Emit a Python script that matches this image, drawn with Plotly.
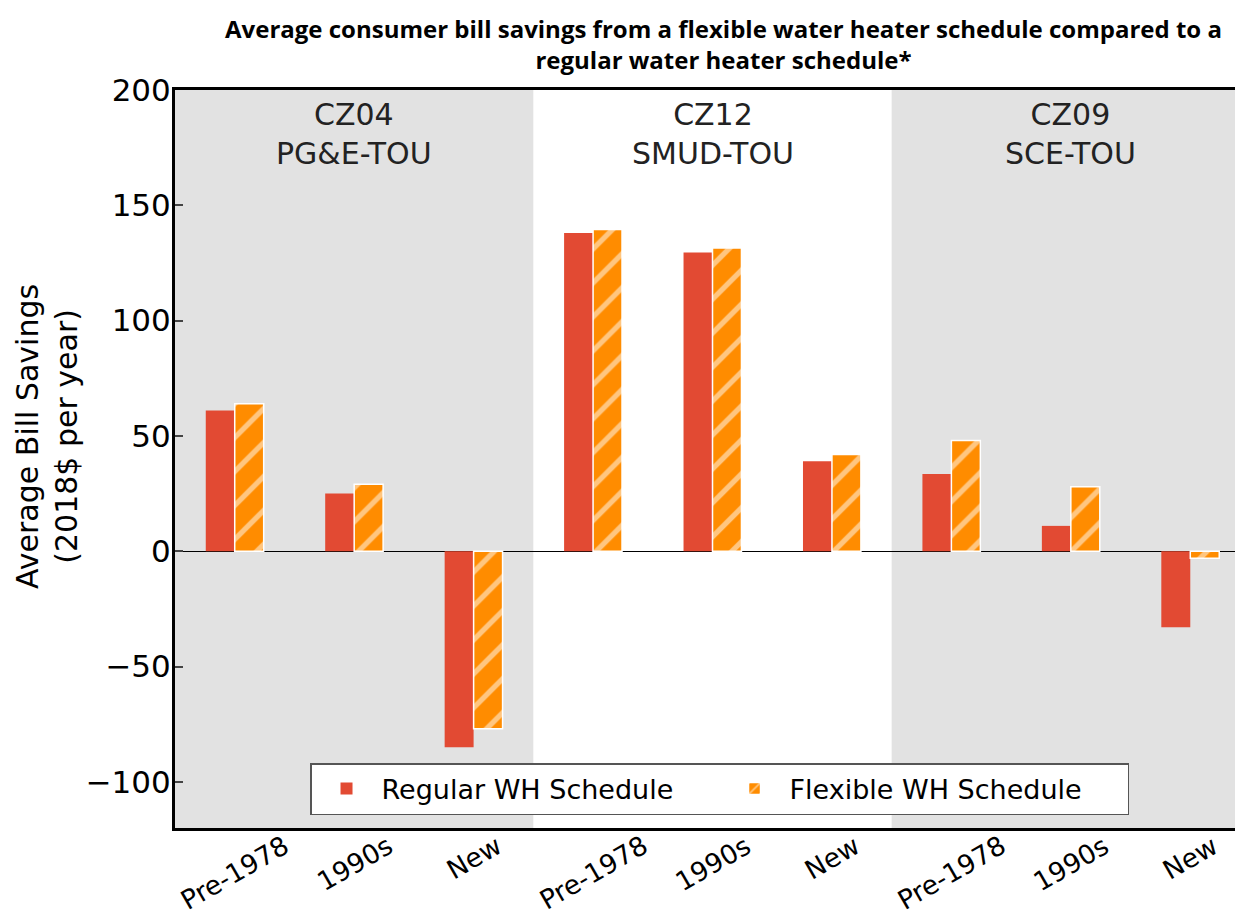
import plotly.graph_objects as go

vintages = ["Pre-1978", "1990s", "New", "Pre-1978", "1990s", "New", "Pre-1978", "1990s", "New"]
regions = ["CZ04<br>PG&E-TOU", "CZ12<br>SMUD-TOU", "CZ09<br>SCE-TOU"]
regular = [61, 25, -85, 138, 129.5, 39, 33.5, 11, -33]
flexible = [64, 29, -77, 139.5, 131.5, 42, 48, 28, -3]
yticks = [-100, -50, 0, 50, 100, 150, 200]

xs = list(range(len(vintages)))
RED = "#E24A33"
ORANGE = "#FF8C00"
GRAY = "#E2E2E2"
FONT = "DejaVu Sans"

fig = go.Figure()
fig.add_trace(go.Bar(x=xs, y=regular, name="Regular WH Schedule", marker=dict(color=RED, line=dict(width=0))))
fig.add_trace(go.Bar(x=xs, y=flexible, name="Flexible WH Schedule",
                     marker=dict(color=ORANGE, line=dict(color="white", width=1.5),
                                 pattern=dict(shape="/", fgcolor="white", bgcolor=ORANGE, size=24, solidity=0.22))))

# shaded regions
for k in (0, 2):
    fig.add_shape(type="rect", xref="x", yref="paper", x0=3 * k - 0.5, x1=3 * k + 2.5, y0=0, y1=1,
                  fillcolor=GRAY, line=dict(width=0), layer="below")
for k, r in enumerate(regions):
    fig.add_annotation(x=3 * k + 1, y=0.94, xref="x", yref="paper", text=r, showarrow=False,
                       yanchor="middle", font=dict(family=FONT, size=30, color="#222"))

# rotated category labels, centred under each tick
for i, lab in zip(xs, vintages):
    fig.add_annotation(x=i, y=0.0, xref="x", yref="paper", text=lab, showarrow=False,
                       textangle=-30, xanchor="center", yanchor="top", borderpad=0,
                       font=dict(family=FONT, size=26.5, color="black"))

# title
fig.add_annotation(x=0.5098, y=1.062, xref="paper", yref="paper", xanchor="center", yanchor="middle",
                   text="<b>Average consumer bill savings from a flexible water heater schedule compared to a<br>regular water heater schedule*</b>",
                   showarrow=False, borderpad=0, font=dict(family="Open Sans", size=24, color="black"))

# y-axis title
fig.add_annotation(x=-0.119, y=0.53, xref="paper", yref="paper", xanchor="center", yanchor="middle",
                   text="Average Bill Savings<br>(2018$ per year)", textangle=-90, showarrow=False,
                   borderpad=0, font=dict(family=FONT, size=30, color="black"))

fig.update_layout(
    width=1243, height=919,
    margin=dict(l=167, r=1, t=82, b=99),
    paper_bgcolor="white", plot_bgcolor="white",
    barmode="group", bargap=0.515, bargroupgap=0.0,
    font=dict(family=FONT, color="black"),
    showlegend=True,
    xaxis=dict(range=[-0.5, 8.5], tickmode="array", tickvals=xs, showticklabels=False,
               showgrid=False, zeroline=False, automargin=False,
               showline=True, linecolor="black", linewidth=3, mirror=True, ticks=""),
    yaxis=dict(range=[-120, 200], tickvals=yticks,
               ticktext=[str(v).replace("-", "\u2212") for v in yticks],
               tickfont=dict(size=31), showgrid=False, zeroline=True, zerolinecolor="black", zerolinewidth=1.2,
               showline=True, linecolor="black", linewidth=3, ticks="inside", ticklen=8, tickwidth=2,
               ticklabelstandoff=-5, automargin=False),
    legend=dict(orientation="h", x=0.1256, y=0.0176, xanchor="left", yanchor="bottom",
                bgcolor="white", bordercolor="#555", borderwidth=1.5,
                font=dict(family=FONT, size=27), itemwidth=60, traceorder="normal",
                entrywidth=333, entrywidthmode="pixels"),
)

fig.write_html("out.html")
